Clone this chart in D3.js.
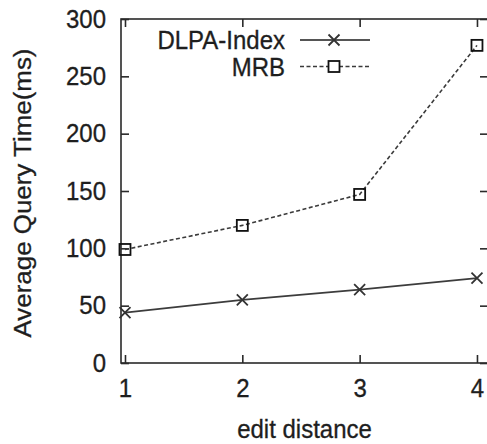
<!DOCTYPE html>
<html>
<head>
<meta charset="utf-8">
<script src="https://cdn.jsdelivr.net/npm/d3@7/dist/d3.min.js"></script>
<style>
  html, body { margin: 0; padding: 0; background: #fff; }
  svg { display: block; }
  text { font-family: "Liberation Sans", Arial, Helvetica, sans-serif; fill: #1e1e1e; stroke: #1e1e1e; stroke-width: 0.3px; }
</style>
</head>
<body>
<svg id="chart" width="487" height="444"></svg>
<script>
// Query time versus edit distance for two index structures
const editDistances = [1, 2, 3, 4];
const dlpaIndex = [44, 55, 64, 74];
const mrb = [99, 120, 147, 277];
const yTicks = [0, 50, 100, 150, 200, 250, 300];
const seriesNames = ["DLPA-Index", "MRB"];

const svg = d3.select("#chart");
const plot = { left: 121, right: 488, top: 19, bottom: 363 };

const x = d3.scaleLinear().domain([0.966, 4.094]).range([plot.left, plot.right]);
const y = d3.scaleLinear().domain([0, 300]).range([plot.bottom, plot.top]);

const axisColor = "#2a2a2a";
const fontSize = 24;
const stretch = 1.08;   // glyphs are slightly taller than wide
const tickLen = 8;

// vertical stretch about a given baseline y
const stretchAt = yb => `translate(0,${yb}) scale(1,${stretch}) translate(0,${-yb})`;

// Frame
svg.append("rect")
  .attr("x", plot.left).attr("y", plot.top)
  .attr("width", plot.right - plot.left).attr("height", plot.bottom - plot.top)
  .attr("fill", "none").attr("stroke", axisColor).attr("stroke-width", 1.6);

function styleTicks(g) {
  g.select(".domain").remove();
  g.selectAll(".tick line").attr("stroke", axisColor).attr("stroke-width", 1.6);
  g.selectAll(".tick text")
    .style("font-family", "'Liberation Sans', Arial, sans-serif")
    .style("font-size", fontSize + "px").attr("fill", "#1e1e1e");
}

// Left axis (inward ticks) and mirrored right ticks
const leftAxis = d3.axisLeft(y).tickValues(yTicks).tickSize(-tickLen).tickPadding(15);
const gl = svg.append("g").attr("transform", `translate(${plot.left},0)`).call(leftAxis);
styleTicks(gl);
gl.selectAll(".tick text").attr("transform", `scale(1,${stretch})`);

const rightAxis = d3.axisRight(y).tickValues(yTicks).tickSize(-tickLen).tickFormat("");
const gr = svg.append("g").attr("transform", `translate(${plot.right},0)`).call(rightAxis);
styleTicks(gr);

// Bottom axis and mirrored top ticks
const bottomAxis = d3.axisBottom(x).tickValues(editDistances).tickSize(-tickLen).tickPadding(17).tickFormat(d3.format("d"));
const gb = svg.append("g").attr("transform", `translate(0,${plot.bottom})`).call(bottomAxis);
styleTicks(gb);
gb.selectAll(".tick text").attr("transform", stretchAt(17 + 0.71 * fontSize));

const topAxis = d3.axisTop(x).tickValues(editDistances).tickSize(-tickLen).tickFormat("");
const gt = svg.append("g").attr("transform", `translate(0,${plot.top})`).call(topAxis);
styleTicks(gt);

// Axis titles
svg.append("text")
  .attr("x", (plot.left + plot.right) / 2).attr("y", 438)
  .attr("transform", stretchAt(438))
  .attr("text-anchor", "middle").style("font-size", fontSize + "px")
  .text("edit distance");
svg.append("text")
  .attr("transform", `translate(31,${(plot.top + plot.bottom) / 2 + 2}) scale(1,${stretch}) rotate(-90)`)
  .attr("text-anchor", "middle").style("font-size", fontSize + "px")
  .text("Average Query Time(ms)");

// Series
const line = d3.line().x((d, i) => x(editDistances[i])).y(d => y(d));
const mk = 5.5;

function crossPath(cx, cy) {
  return `M${cx - mk},${cy - mk}L${cx + mk},${cy + mk}M${cx - mk},${cy + mk}L${cx + mk},${cy - mk}`;
}

// MRB: dashed line with square markers
svg.append("path").datum(mrb)
  .attr("d", line).attr("fill", "none")
  .attr("stroke", "#3a3a3a").attr("stroke-width", 1.6).attr("stroke-dasharray", "4,2.5");
svg.selectAll(".sq").data(mrb).enter().append("rect")
  .attr("x", (d, i) => x(editDistances[i]) - mk).attr("y", d => y(d) - mk)
  .attr("width", 2 * mk).attr("height", 2 * mk)
  .attr("fill", "none").attr("stroke", "#111").attr("stroke-width", 1.8);

// DLPA-Index: solid line with cross markers
svg.append("path").datum(dlpaIndex)
  .attr("d", line).attr("fill", "none")
  .attr("stroke", "#3c3c3c").attr("stroke-width", 1.8);
svg.selectAll(".cr").data(dlpaIndex).enter().append("path")
  .attr("d", (d, i) => crossPath(x(editDistances[i]), y(d)))
  .attr("fill", "none").attr("stroke", "#333").attr("stroke-width", 1.8);

// Legend
const legend = svg.append("g");
const legendRows = [
  { name: seriesNames[0], y: 40, dash: null, marker: "cross" },
  { name: seriesNames[1], y: 66.5, dash: "4,2.5", marker: "square" }
];
legendRows.forEach(r => {
  const yb = r.y + 0.35 * fontSize;
  legend.append("text")
    .attr("x", 285).attr("y", yb)
    .attr("transform", stretchAt(yb - 0.35 * fontSize))
    .attr("text-anchor", "end").style("font-size", fontSize + "px")
    .text(r.name);
  legend.append("line")
    .attr("x1", 300).attr("x2", 370).attr("y1", r.y).attr("y2", r.y)
    .attr("stroke", r.dash ? "#3a3a3a" : "#555").attr("stroke-width", r.dash ? 1.6 : 1.8)
    .attr("stroke-dasharray", r.dash);
  if (r.marker === "cross") {
    legend.append("path").attr("d", crossPath(334, r.y))
      .attr("fill", "none").attr("stroke", "#333").attr("stroke-width", 1.8);
  } else {
    legend.append("rect")
      .attr("x", 334 - mk).attr("y", r.y - mk).attr("width", 2 * mk).attr("height", 2 * mk)
      .attr("fill", "#fff").attr("stroke", "#111").attr("stroke-width", 1.8);
  }
});
</script>
</body>
</html>
